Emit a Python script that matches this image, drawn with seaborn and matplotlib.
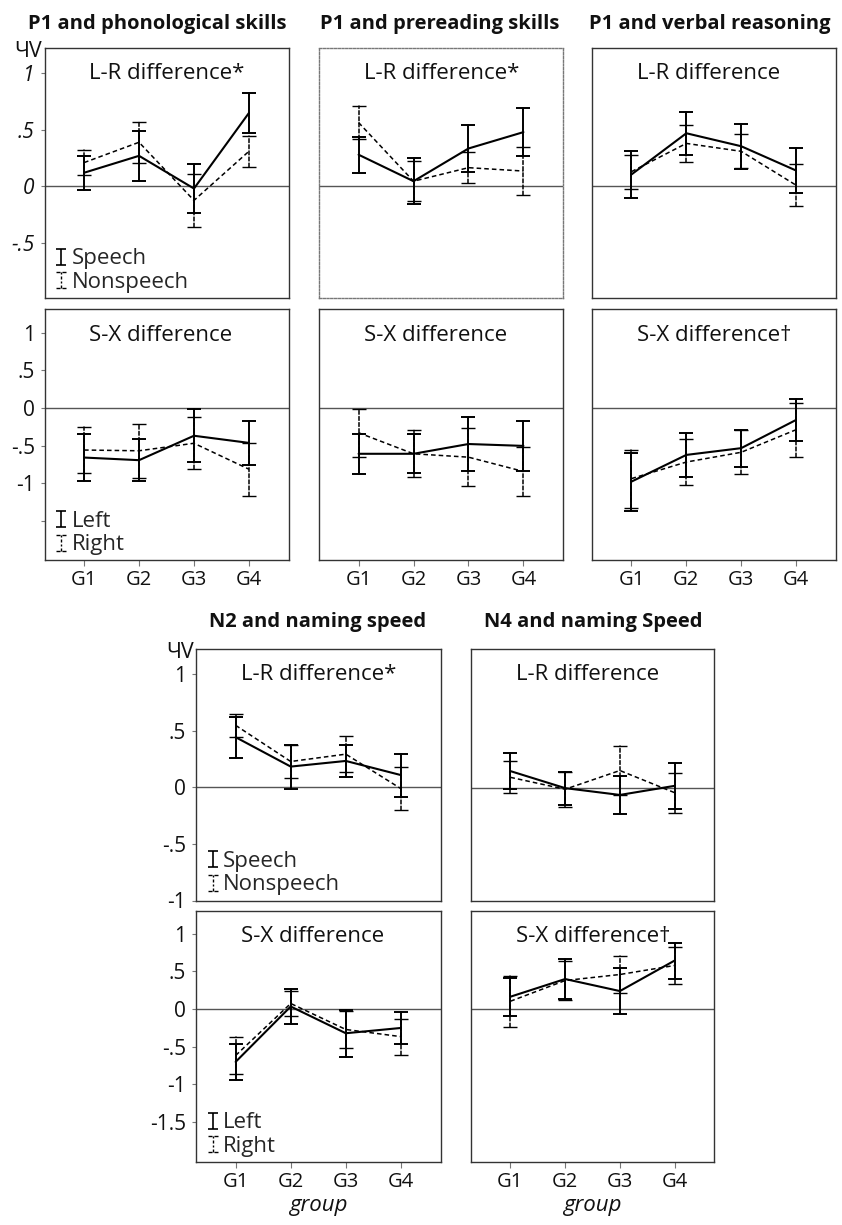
import numpy as np
import pandas as pd
import matplotlib
matplotlib.use("Agg")
import matplotlib.pyplot as plt
from matplotlib.path import Path
from matplotlib.lines import Line2D
import seaborn as sns

# ---------------------------------------------------------------- data
groups = ["G1", "G2", "G3", "G4"]

# P1 and phonological skills
phon_lr_speech = [0.12, 0.27, -0.02, 0.65]
phon_lr_speech_err = [0.15, 0.22, 0.22, 0.18]
phon_lr_nonspeech = [0.21, 0.39, -0.125, 0.31]
phon_lr_nonspeech_err = [0.11, 0.18, 0.235, 0.135]
phon_sx_left = [-0.66, -0.695, -0.37, -0.465]
phon_sx_left_err = [0.31, 0.28, 0.35, 0.29]
phon_sx_right = [-0.56, -0.57, -0.47, -0.815]
phon_sx_right_err = [0.30, 0.36, 0.345, 0.355]

# P1 and prereading skills
prer_lr_speech = [0.28, 0.045, 0.335, 0.48]
prer_lr_speech_err = [0.16, 0.205, 0.21, 0.21]
prer_lr_nonspeech = [0.565, 0.045, 0.165, 0.135]
prer_lr_nonspeech_err = [0.15, 0.175, 0.14, 0.21]
prer_sx_left = [-0.61, -0.61, -0.48, -0.505]
prer_sx_left_err = [0.265, 0.26, 0.36, 0.335]
prer_sx_right = [-0.33, -0.61, -0.655, -0.845]
prer_sx_right_err = [0.32, 0.315, 0.385, 0.325]

# P1 and verbal reasoning
verb_lr_speech = [0.105, 0.47, 0.355, 0.14]
verb_lr_speech_err = [0.21, 0.19, 0.20, 0.20]
verb_lr_nonspeech = [0.13, 0.38, 0.31, 0.01]
verb_lr_nonspeech_err = [0.15, 0.165, 0.15, 0.185]
verb_sx_left = [-0.98, -0.625, -0.535, -0.16]
verb_sx_left_err = [0.385, 0.295, 0.245, 0.28]
verb_sx_right = [-0.94, -0.72, -0.59, -0.29]
verb_sx_right_err = [0.385, 0.31, 0.295, 0.36]

# N2 and naming speed
n2_lr_speech = [0.445, 0.185, 0.235, 0.11]
n2_lr_speech_err = [0.18, 0.195, 0.14, 0.19]
n2_lr_nonspeech = [0.55, 0.23, 0.295, -0.01]
n2_lr_nonspeech_err = [0.10, 0.145, 0.16, 0.19]
n2_sx_left = [-0.70, 0.035, -0.32, -0.25]
n2_sx_left_err = [0.24, 0.23, 0.31, 0.21]
n2_sx_right = [-0.615, 0.075, -0.27, -0.365]
n2_sx_right_err = [0.24, 0.17, 0.24, 0.24]

# N4 and naming speed
n4_lr_speech = [0.15, 0.0, -0.06, 0.02]
n4_lr_speech_err = [0.16, 0.145, 0.17, 0.20]
n4_lr_nonspeech = [0.095, -0.01, 0.155, -0.04]
n4_lr_nonspeech_err = [0.14, 0.155, 0.215, 0.175]
n4_sx_left = [0.165, 0.40, 0.24, 0.645]
n4_sx_left_err = [0.25, 0.26, 0.31, 0.24]
n4_sx_right = [0.105, 0.38, 0.46, 0.58]
n4_sx_right_err = [0.34, 0.26, 0.24, 0.25]

titles_top = ["P1 and phonological skills", "P1 and prereading skills",
              "P1 and verbal reasoning"]
titles_bottom = ["N2 and naming speed", "N4 and naming Speed"]

lr_ticks = [-0.5, 0, 0.5, 1]
lr_ticklabels = ["-.5", "0", ".5", "1"]
lr_ticks_n2 = [-1, -0.5, 0, 0.5, 1]
lr_ticklabels_n2 = ["-1", "-.5", "0", ".5", "1"]
sx_ticks = [-1.5, -1, -0.5, 0, 0.5, 1]
sx_ticklabels_p1 = ["", "-1", "-.5", "0", ".5", "1"]
sx_ticklabels_n2 = ["-1.5", "-1", "-.5", "0", ".5", "1"]

# ---------------------------------------------------------------- style
W, H = 842, 1225
sns.set_theme(style="white")
plt.rcParams["font.family"] = ["Open Sans", "DejaVu Sans"]
plt.rcParams["axes.unicode_minus"] = False

fig = plt.figure(figsize=(W / 100, H / 100), dpi=100)
fig.patch.set_facecolor("white")

LR_LIM = (-0.99, 1.23)
SX_LIM = (-2.03, 1.31)
X_LIM = (-0.72, 3.72)


def add_axes(x0, y0, x1, y1):
    return fig.add_axes([x0 / W, 1 - y1 / H, (x1 - x0) / W, (y1 - y0) / H])


def long_form(mean, err):
    m = np.asarray(mean, dtype=float)
    e = np.asarray(err, dtype=float)
    return pd.DataFrame({"group": groups * 2,
                         "value": np.concatenate([m - e, m + e])})


def draw_series(ax, mean, err, dashed):
    df = long_form(mean, err)
    if dashed:
        line_kw = dict(linestyle=(0, (3, 2)), linewidth=1.1)
        bar_kw = dict(capsize=5, elinewidth=1.1, capthick=1.0)
    else:
        line_kw = dict(linestyle="-", linewidth=1.5)
        bar_kw = dict(capsize=5, elinewidth=1.4, capthick=1.4)
    sns.lineplot(data=df, x="group", y="value", ax=ax, color="black",
                 estimator="mean", errorbar=("pi", 100), err_style="bars",
                 err_kws=bar_kw, **line_kw)
    cont = ax.containers[-1]
    if dashed:
        for lc in cont.lines[2]:
            lc.set_linestyle((0, (2.5, 1.5)))


def style_axes(ax, ylim, label, dotted=False):
    ax.set_xlim(*X_LIM)
    ax.set_ylim(*ylim)
    ax.axhline(0, color="#555555", lw=1.0, zorder=0.5)
    for sp in ax.spines.values():
        sp.set_visible(True)
        if dotted:
            sp.set_color("#777777")
            sp.set_linestyle((0, (1.5, 1.2)))
            sp.set_linewidth(1.0)
        else:
            sp.set_color("#333333")
            sp.set_linewidth(1.0)
    ax.set_xlabel("")
    ax.set_ylabel("")
    ax.set_xticks([])
    ax.set_yticks([])
    ax.text(0.184, 0.895, label, transform=ax.transAxes, ha="left",
            va="center", fontsize=16, color="#111111")


def set_yticks(ax, ticks, labels, italic=False):
    ax.set_yticks(ticks)
    ax.set_yticklabels(labels, fontsize=15, color="#111111",
                       style="italic" if italic else "normal")
    ax.tick_params(axis="y", left=True, length=3, width=0.8,
                   color="#777777", pad=4)


def set_xticks(ax):
    ax.set_xticks(range(len(groups)))
    ax.set_xticklabels(groups, fontsize=14.5, color="#111111")
    ax.tick_params(axis="x", bottom=True, length=4, width=0.8,
                   color="#777777", pad=3)


# legend key glyphs: an error-bar "I" and its dashed counterpart
M, L = Path.MOVETO, Path.LINETO
ibeam_solid = Path([(-0.55, 1), (0.55, 1), (0, 1), (0, -1), (-0.55, -1), (0.55, -1)],
                   [M, L, M, L, M, L])
ibeam_dashed = Path([(-0.55, 1), (-0.12, 1), (0.12, 1), (0.55, 1),
                     (-0.55, -1), (-0.12, -1), (0.12, -1), (0.55, -1),
                     (0, 1), (0, 0.7), (0, 0.45), (0, 0.15), (0, -0.1), (0, -0.4),
                     (0, -0.65), (0, -1)],
                    [M, L, M, L, M, L, M, L, M, L, M, L, M, L, M, L])


def add_key(ax, names):
    handles = [
        Line2D([], [], linestyle="none", marker=ibeam_solid, markersize=12,
               markeredgewidth=1.2, markeredgecolor="black", fillstyle="none"),
        Line2D([], [], linestyle="none", marker=ibeam_dashed, markersize=12,
               markeredgewidth=1.0, markeredgecolor="black", fillstyle="none"),
    ]
    ax.legend(handles, names, loc="lower left", bbox_to_anchor=(0.042, 0.02),
              frameon=False, fontsize=16, handlelength=0.6, handletextpad=0.15,
              labelspacing=0.12, borderpad=0, borderaxespad=0)


def unit_label(ax):
    ax.annotate("ЧV", xy=(0, 1), xycoords="axes fraction", xytext=(-2, -4),
                textcoords="offset pixels", ha="right", va="center",
                fontsize=15.5, color="#111111")


# ---------------------------------------------------------------- top block
cols_top = [(44.5, 288.5), (319, 563), (592, 835.5)]
row_lr_top = (47.5, 298)
row_sx_top = (309.5, 560.5)

lr_top = [(phon_lr_speech, phon_lr_speech_err, phon_lr_nonspeech, phon_lr_nonspeech_err, "L-R difference*"),
          (prer_lr_speech, prer_lr_speech_err, prer_lr_nonspeech, prer_lr_nonspeech_err, "L-R difference*"),
          (verb_lr_speech, verb_lr_speech_err, verb_lr_nonspeech, verb_lr_nonspeech_err, "L-R difference")]
sx_top = [(phon_sx_left, phon_sx_left_err, phon_sx_right, phon_sx_right_err, "S-X difference"),
          (prer_sx_left, prer_sx_left_err, prer_sx_right, prer_sx_right_err, "S-X difference"),
          (verb_sx_left, verb_sx_left_err, verb_sx_right, verb_sx_right_err, "S-X difference\u2020")]

for i, (x0, x1) in enumerate(cols_top):
    a, ae, b, be, lab = lr_top[i]
    ax = add_axes(x0, row_lr_top[0], x1, row_lr_top[1])
    draw_series(ax, b, be, dashed=True)
    draw_series(ax, a, ae, dashed=False)
    style_axes(ax, LR_LIM, lab, dotted=(i == 1))
    if i == 0:
        set_yticks(ax, lr_ticks, lr_ticklabels, italic=True)
        unit_label(ax)
        add_key(ax, ["Speech", "Nonspeech"])

    a, ae, b, be, lab = sx_top[i]
    ax = add_axes(x0, row_sx_top[0], x1, row_sx_top[1])
    draw_series(ax, b, be, dashed=True)
    draw_series(ax, a, ae, dashed=False)
    style_axes(ax, SX_LIM, lab)
    set_xticks(ax)
    if i == 0:
        set_yticks(ax, sx_ticks, sx_ticklabels_p1)
        add_key(ax, ["Left", "Right"])

for (x0, x1), t, cx in zip(cols_top, titles_top, [157, 439.5, 709.5]):
    fig.text(cx / W, 1 - 29.5 / H, t, ha="center", va="baseline",
             fontsize=14.5, fontweight="bold", color="#111111")

# ---------------------------------------------------------------- bottom block
cols_bot = [(196, 440.5), (471, 714)]
row_lr_bot = (648.5, 900.5)
row_sx_bot = (910.5, 1162)

lr_bot = [(n2_lr_speech, n2_lr_speech_err, n2_lr_nonspeech, n2_lr_nonspeech_err, "L-R difference*"),
          (n4_lr_speech, n4_lr_speech_err, n4_lr_nonspeech, n4_lr_nonspeech_err, "L-R difference")]
sx_bot = [(n2_sx_left, n2_sx_left_err, n2_sx_right, n2_sx_right_err, "S-X difference"),
          (n4_sx_left, n4_sx_left_err, n4_sx_right, n4_sx_right_err, "S-X difference\u2020")]

for i, (x0, x1) in enumerate(cols_bot):
    a, ae, b, be, lab = lr_bot[i]
    ax = add_axes(x0, row_lr_bot[0], x1, row_lr_bot[1])
    draw_series(ax, b, be, dashed=True)
    draw_series(ax, a, ae, dashed=False)
    style_axes(ax, LR_LIM, lab)
    if i == 0:
        set_yticks(ax, lr_ticks_n2, lr_ticklabels_n2)
        unit_label(ax)
        add_key(ax, ["Speech", "Nonspeech"])

    a, ae, b, be, lab = sx_bot[i]
    ax = add_axes(x0, row_sx_bot[0], x1, row_sx_bot[1])
    draw_series(ax, b, be, dashed=True)
    draw_series(ax, a, ae, dashed=False)
    style_axes(ax, SX_LIM, lab)
    set_xticks(ax)
    ax.set_xlabel("group", fontsize=16, style="italic", color="#111111",
                  labelpad=2)
    if i == 0:
        set_yticks(ax, sx_ticks, sx_ticklabels_n2)
        add_key(ax, ["Left", "Right"])

for t, cx in zip(titles_bottom, [318, 593]):
    fig.text(cx / W, 1 - 627 / H, t, ha="center", va="baseline",
             fontsize=14.5, fontweight="bold", color="#111111")

fig.savefig("out.png", dpi=100, facecolor="white")
